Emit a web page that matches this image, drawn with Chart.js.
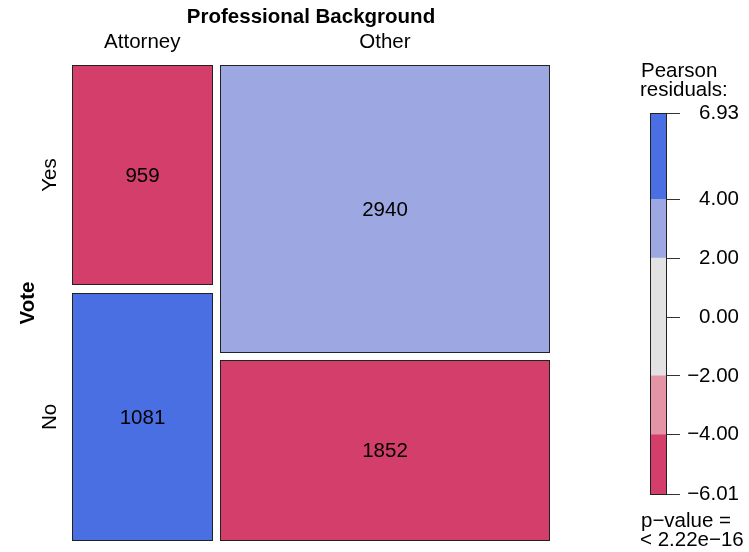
<!DOCTYPE html>
<html>
<head>
<meta charset="utf-8">
<title>Professional Background vs Vote</title>
<script src="https://cdn.jsdelivr.net/npm/chart.js@4.4.1/dist/chart.umd.min.js"></script>
<style>
  html, body { margin: 0; padding: 0; background: #ffffff; }
  #wrap { position: relative; width: 749px; height: 552px; }
  #mosaicChart { position: absolute; left: 0; top: 0; }
  #legendChart { position: absolute; left: 636px; top: 0; }
</style>
</head>
<body>
<div id="wrap">
  <canvas id="mosaicChart" width="749" height="552"></canvas>
  <canvas id="legendChart" width="113" height="552"></canvas>
</div>
<script>
// Data
const columns = ['Attorney', 'Other'];
const rows = ['Yes', 'No'];
const yesCounts = [959, 2940];
const noCounts = [1081, 1852];

// Shading legend (Pearson residuals)
const legendTicks = [6.93, 4, 2, 0, -2, -4, -6.01];
const shadeLimits = [-6.01, -4, -2, 2, 4, 6.93];
const shadeColors = ['#D33F6A', '#E495A5', '#E2E2E2', '#9DA8E2', '#4A6FE3'];
const pValueText = ['p\u2212value =', '< 2.22e\u221216'];

const FONT = "'Liberation Sans', Arial, Helvetica, sans-serif";
const FONT_SIZE = 20.5;
Chart.defaults.font.family = FONT;
Chart.defaults.color = '#000';

const counts = [yesCounts, noCounts];
const colTotals = columns.map((c, i) => yesCounts[i] + noCounts[i]);
const rowTotals = counts.map(r => r.reduce((a, b) => a + b, 0));
const grandTotal = colTotals.reduce((a, b) => a + b, 0);

function residual(r, c) {
  const expected = rowTotals[r] * colTotals[c] / grandTotal;
  return (counts[r][c] - expected) / Math.sqrt(expected);
}

function shadeFor(value) {
  for (let i = 0; i < shadeColors.length; i++) {
    if (value <= shadeLimits[i + 1]) return shadeColors[i];
  }
  return shadeColors[shadeColors.length - 1];
}

function fmtTick(v) {
  const s = Math.abs(v).toFixed(2);
  return v < 0 ? '\u2212' + s : s;
}

// Mosaic tiles are laid out in data units on 0..1 scales
const GAP = 0.015;

const mosaicPlugin = {
  id: 'mosaic',
  afterDraw(chart) {
    const { ctx, chartArea, scales: { x, y } } = chart;
    const usableW = 1 - GAP * (columns.length - 1);
    let x0 = 0;

    ctx.save();
    columns.forEach((col, c) => {
      const w = usableW * colTotals[c] / grandTotal;
      const usableH = 1 - GAP * (rows.length - 1);
      let y0 = 0;
      rows.forEach((row, r) => {
        const h = usableH * counts[r][c] / colTotals[c];
        const left = Math.round(x.getPixelForValue(x0));
        const right = Math.round(x.getPixelForValue(x0 + w));
        const top = Math.round(y.getPixelForValue(y0));
        const bottom = Math.round(y.getPixelForValue(y0 + h));

        ctx.fillStyle = shadeFor(residual(r, c));
        ctx.fillRect(left, top, right - left, bottom - top);
        ctx.strokeStyle = '#222';
        ctx.lineWidth = 1;
        ctx.strokeRect(left + 0.5, top + 0.5, right - left - 1, bottom - top - 1);

        ctx.fillStyle = '#000';
        ctx.font = FONT_SIZE + 'px ' + FONT;
        ctx.textAlign = 'center';
        ctx.textBaseline = 'middle';
        ctx.fillText(String(counts[r][c]), (left + right) / 2, (top + bottom) / 2 + 1);

        // row labels follow the first column
        if (c === 0) {
          ctx.save();
          ctx.translate(chartArea.left - 16.5, (top + bottom) / 2);
          ctx.rotate(-Math.PI / 2);
          ctx.textBaseline = 'alphabetic';
          ctx.fillText(row, 0, 0);
          ctx.restore();
        }
        y0 += h + GAP;
      });

      // column label
      const cx = (x.getPixelForValue(x0) + x.getPixelForValue(x0 + w)) / 2;
      ctx.fillStyle = '#000';
      ctx.font = FONT_SIZE + 'px ' + FONT;
      ctx.textAlign = 'center';
      ctx.textBaseline = 'alphabetic';
      ctx.fillText(col, cx, chartArea.top - 17);
      x0 += w + GAP;
    });

    // variable names
    ctx.font = 'bold ' + FONT_SIZE + 'px ' + FONT;
    ctx.textAlign = 'center';
    ctx.textBaseline = 'alphabetic';
    ctx.fillText('Professional Background', (chartArea.left + chartArea.right) / 2, chartArea.top - 42);

    ctx.save();
    ctx.translate(chartArea.left - 38, (chartArea.top + chartArea.bottom) / 2);
    ctx.rotate(-Math.PI / 2);
    ctx.fillText('Vote', 0, 0);
    ctx.restore();

    ctx.restore();
  }
};

new Chart(document.getElementById('mosaicChart'), {
  type: 'scatter',
  data: { datasets: [] },
  options: {
    responsive: false,
    animation: false,
    layout: { padding: { left: 72, top: 65, right: 199, bottom: 11 } },
    plugins: { legend: { display: false }, tooltip: { enabled: false } },
    scales: {
      x: { type: 'linear', min: 0, max: 1, display: false },
      y: { type: 'linear', min: 0, max: 1, reverse: true, display: false }
    }
  },
  plugins: [mosaicPlugin]
});

// Legend: outline plus header / p-value text
const legendFramePlugin = {
  id: 'legendFrame',
  afterDraw(chart) {
    const { ctx, chartArea } = chart;
    ctx.save();
    ctx.strokeStyle = '#222';
    ctx.lineWidth = 1;
    ctx.strokeRect(chartArea.left + 0.5, chartArea.top + 0.5,
      chartArea.right - chartArea.left - 1, chartArea.bottom - chartArea.top);

    ctx.fillStyle = '#000';
    ctx.font = FONT_SIZE + 'px ' + FONT;
    ctx.textAlign = 'left';
    ctx.textBaseline = 'alphabetic';
    ctx.fillText('Pearson', chartArea.left - 9, chartArea.top - 36);
    ctx.fillText('residuals:', chartArea.left - 10, chartArea.top - 17);
    ctx.fillText(pValueText[0], chartArea.left - 9, chartArea.bottom + 33);
    ctx.fillText(pValueText[1], chartArea.left - 10, chartArea.bottom + 52);
    ctx.restore();
  }
};

new Chart(document.getElementById('legendChart'), {
  type: 'bar',
  data: {
    labels: [''],
    datasets: shadeColors.map((color, i) => ({
      data: [[shadeLimits[i], shadeLimits[i + 1]]],
      backgroundColor: color,
      borderWidth: 0,
      grouped: false,
      barPercentage: 1,
      categoryPercentage: 1
    }))
  },
  options: {
    responsive: false,
    animation: false,
    layout: { padding: { left: 14, top: 113, right: 10, bottom: 58 } },
    plugins: { legend: { display: false }, tooltip: { enabled: false } },
    scales: {
      x: { display: false },
      y: {
        type: 'linear',
        position: 'right',
        min: shadeLimits[0],
        max: shadeLimits[shadeLimits.length - 1],
        afterBuildTicks: scale => {
          scale.ticks = legendTicks.map(v => ({ value: v }));
        },
        afterFit: scale => {
          scale.width = 72;
        },
        border: { display: false },
        grid: { drawOnChartArea: false, tickLength: 13, color: '#333' },
        ticks: {
          autoSkip: false,
          crossAlign: 'far',
          color: '#000',
          font: { size: FONT_SIZE },
          callback: v => fmtTick(v)
        }
      }
    }
  },
  plugins: [legendFramePlugin]
});
</script>
</body>
</html>
